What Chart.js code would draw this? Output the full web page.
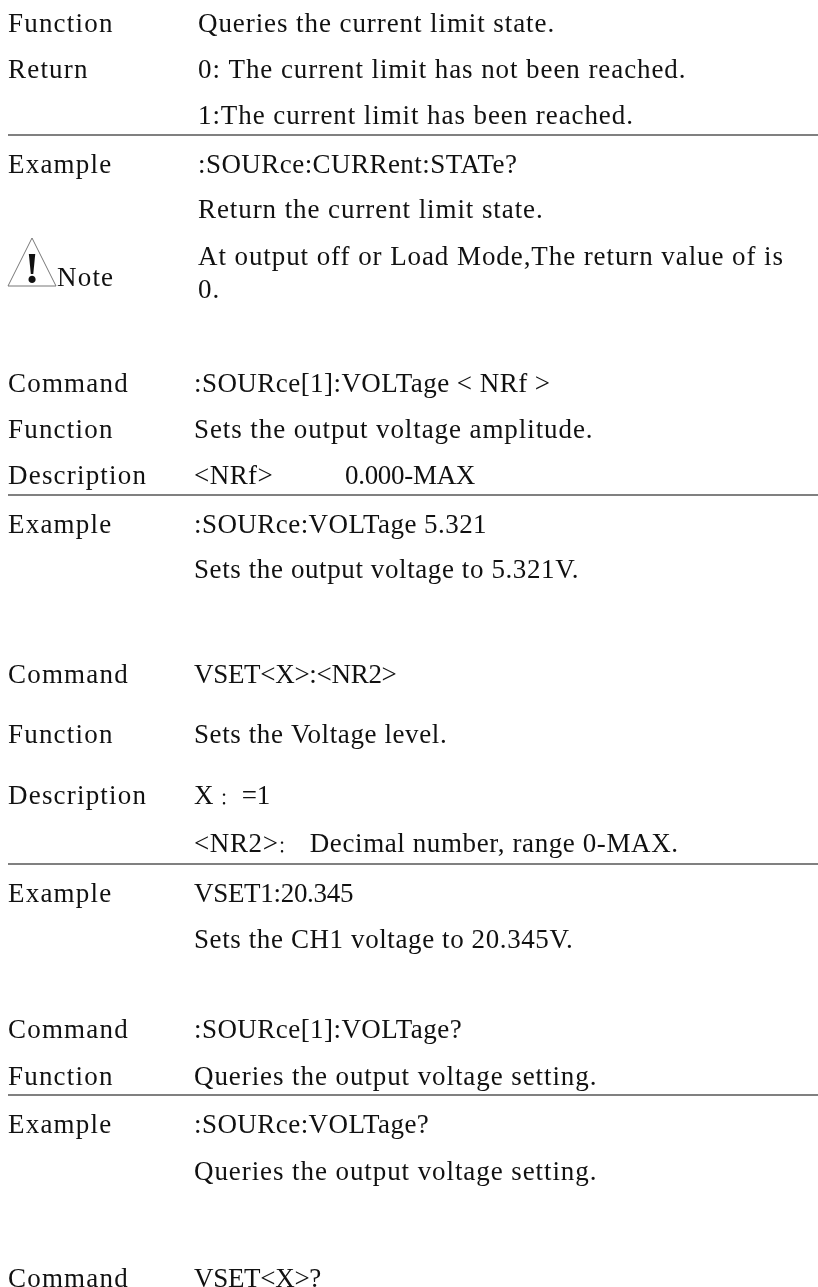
<!DOCTYPE html>
<html>
<head>
<meta charset="utf-8">
<title>Command reference</title>
<script src="https://cdn.jsdelivr.net/npm/chart.js@4"></script>
<style>
    @font-face {
        font-family: "PageColon";
        src: local("Noto Sans CJK SC"), local("Noto Sans CJK SC Regular"), local("NotoSansCJKsc-Regular");
        unicode-range: U+FF1A;
        size-adjust: 60%;
    }
    html, body { margin: 0; padding: 0; background: #fff; overflow: hidden; }
    canvas { display: block; }
</style>
</head>
<body>
<canvas id="pageChart" width="818" height="1287"></canvas>
<script>
// ============================================
// PAGE DATA - row values
// ============================================

const headTexts = ['Function', 'Return', 'Example', 'Note', 'Command', 'Function', 'Description', 'Example',
    'Command', 'Function', 'Description', 'Example', 'Command', 'Function', 'Example', 'Command'];
const headRows = [32, 78, 173, 286, 392, 438, 484, 533, 683, 743, 804, 902, 1038, 1085, 1133, 1287];
const headCols = [8, 8, 8, 57, 8, 8, 8, 8, 8, 8, 8, 8, 8, 8, 8, 8];

const proseTexts = [
    'Queries the current limit state.',
    '0: The current limit has not been reached.',
    '1:The current limit has been reached.',
    'Return the current limit state.',
    'At output off or Load Mode,The return value of is',
    '0.',
    'Sets the output voltage amplitude.',
    'Queries the output voltage setting.',
    'Queries the output voltage setting.'
];
const proseRows = [32, 78, 124, 218, 265, 298, 438, 1085, 1180];
const proseCols = [198, 198, 198, 198, 198, 198, 194, 194, 194];

const setsTexts = [
    'Sets the output voltage to 5.321V.',
    'Sets the Voltage level.',
    '<NR2>：  Decimal number, range 0-MAX.',
    'Sets the CH1 voltage to 20.345V.'
];
const setsRows = [578, 743, 852, 948];
const setsCols = [194, 194, 194, 194];

const scpiTexts = [
    ':SOURce:CURRent:STATe?',
    ':SOURce[1]:VOLTage < NRf >',
    '<NRf>',
    ':SOURce:VOLTage 5.321',
    ':SOURce[1]:VOLTage?',
    ':SOURce:VOLTage?'
];
const scpiRows = [173, 392, 484, 533, 1038, 1133];
const scpiCols = [198, 194, 194, 194, 194, 194];

const vsetTexts = ['0.000-MAX', 'VSET<X>:<NR2>', 'X ： =1', 'VSET1:20.345', 'VSET<X>?'];
const vsetRows = [484, 683, 804, 902, 1287];
const vsetCols = [345, 194, 194, 194, 194];

const ruleRows = [135, 495, 864, 1095];
const noteMark = [{ x: 8, y: 286 }, { x: 32, y: 238 }, { x: 56, y: 286 }, { x: 8, y: 286 }];
const noteBang = [{ x: 32, y: 283, text: '!' }];

// ============================================
// TEXT PLUGIN - writes rows at their scale positions
// ============================================

const rowTextPlugin = {
    id: 'rowText',
    afterDatasetsDraw(chart) {
        const ctx = chart.ctx;
        chart.data.datasets.forEach((dataset, i) => {
            if (!dataset.textFont) return;
            const points = chart.getDatasetMeta(i).data;
            ctx.save();
            ctx.font = dataset.textFont;
            ctx.fillStyle = '#111';
            ctx.textAlign = dataset.textAlign || 'left';
            ctx.textBaseline = 'alphabetic';
            ctx.letterSpacing = dataset.textSpacing || '0px';
            points.forEach((point, j) => {
                ctx.fillText(dataset.data[j].text, point.x, point.y);
            });
            ctx.restore();
        });
    }
};

function toPoints(texts, rows, cols) {
    return texts.map((text, i) => ({ x: cols[i], y: rows[i], text: text }));
}

function textDataset(points, spacing) {
    return { data: points, pointRadius: 0, textFont: pageFont, textSpacing: spacing };
}

const pageFont = '27px "Liberation Serif", "PageColon", serif';

function buildChart() {
    new Chart(document.getElementById('pageChart'), {
        type: 'scatter',
        data: {
            datasets: [
                textDataset(toPoints(headTexts, headRows, headCols), '1.2px'),
                textDataset(toPoints(proseTexts, proseRows, proseCols), '0.92px'),
                textDataset(toPoints(setsTexts, setsRows, setsCols), '0.6px'),
                textDataset(toPoints(scpiTexts, scpiRows, scpiCols), '0.45px'),
                textDataset(toPoints(vsetTexts, vsetRows, vsetCols), '-0.3px'),
                { data: noteMark, showLine: true, pointRadius: 0, borderColor: '#777', borderWidth: 1, clip: false },
                { data: noteBang, pointRadius: 0, textFont: 'bold 44px "Liberation Serif", serif', textAlign: 'center' }
            ]
        },
        plugins: [rowTextPlugin],
        options: {
            responsive: false,
            animation: false,
            devicePixelRatio: 1,
            layout: { autoPadding: false, padding: { left: 8, right: 0, top: 0, bottom: 0 } },
            plugins: { legend: { display: false }, tooltip: { enabled: false } },
            scales: {
                x: { type: 'linear', display: false, min: 8, max: 818 },
                y: {
                    type: 'linear',
                    reverse: true,
                    min: 0,
                    max: 1287,
                    border: { display: false },
                    grid: { color: '#808080', lineWidth: 2, drawTicks: false },
                    ticks: { display: false },
                    afterBuildTicks(axis) {
                        axis.ticks = ruleRows.map(value => ({ value }));
                    }
                }
            }
        }
    });
}

// the colon face has to be ready before the canvas text is written
document.fonts.load('27px "PageColon"', '：').finally(buildChart);
</script>
</body>
</html>
